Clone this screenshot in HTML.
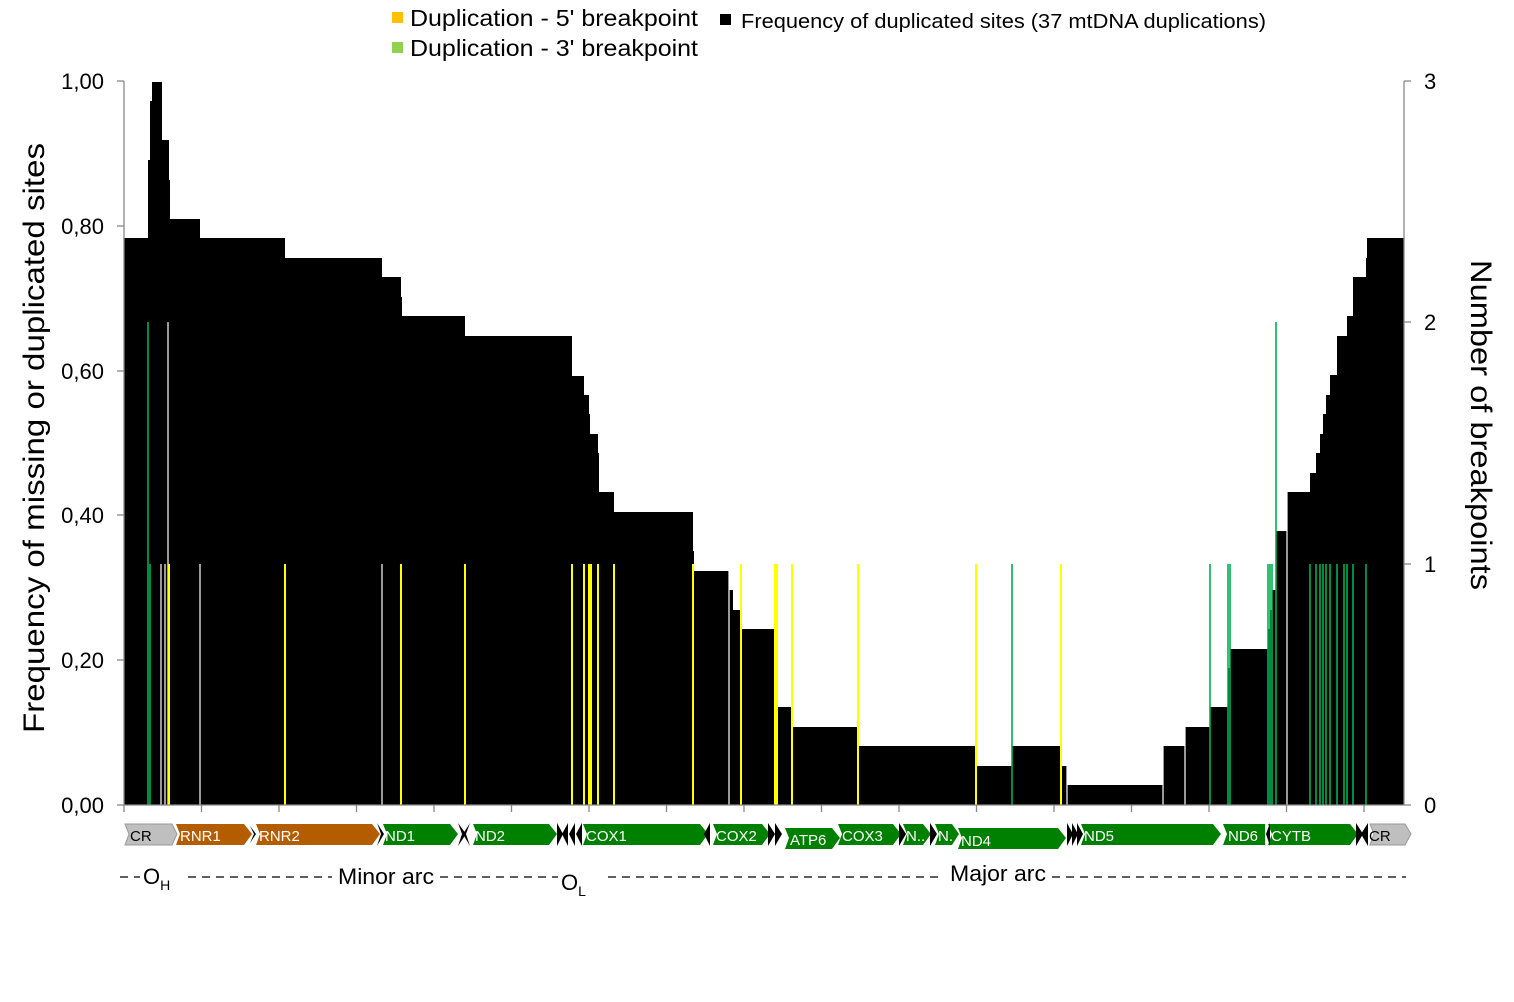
<!DOCTYPE html>
<html><head><meta charset="utf-8"><style>
body{margin:0;background:#fff;}
svg{display:block;font-family:"Liberation Sans",sans-serif;}
</style></head><body>
<svg width="1514" height="1002" viewBox="0 0 1514 1002" xmlns="http://www.w3.org/2000/svg">
<rect width="1514" height="1002" fill="#fff"/>
<!-- legend -->
<rect x="392" y="12" width="11" height="11" fill="#ffc000"/>
<text x="410" y="26" font-size="23" textLength="288" lengthAdjust="spacingAndGlyphs">Duplication - 5' breakpoint</text>
<rect x="392" y="42" width="11" height="11" fill="#92d050"/>
<text x="410" y="56" font-size="23" textLength="288" lengthAdjust="spacingAndGlyphs">Duplication - 3' breakpoint</text>
<rect x="720" y="14" width="11" height="11" fill="#000"/>
<text x="741" y="28" font-size="20" textLength="525" lengthAdjust="spacingAndGlyphs">Frequency  of duplicated  sites (37 mtDNA duplications)</text>
<!-- data -->
<polygon fill="#000" points="124,805 124,238 148,238 148,160 150,160 150,101 152,101 152,82 162,82 162,140 169,140 169,180 170,180 170,219 200,219 200,238 285,238 285,258 382,258 382,277 401,277 401,297 402,297 402,316 465,316 465,336 572,336 572,376 584,376 584,395 589,395 589,414 590,414 590,434 598,434 598,453 599,453 599,492 614,492 614,512 693,512 693,551 694,551 694,571 729,571 729,590 733,590 733,610 741,610 741,629 775,629 775,668 777,668 777,707 792,707 792,727 858,727 858,746 976,746 976,766 1012,766 1012,746 1061,746 1061,766 1067,766 1067,785 1163,785 1163,746 1185,746 1185,727 1210,727 1210,707 1228,707 1228,668 1230,668 1230,649 1268,649 1268,629 1270,629 1270,610 1272,610 1272,590 1276,590 1276,531 1287,531 1287,492 1310,492 1310,473 1316,473 1316,453 1320,453 1320,434 1323,434 1323,414 1326,414 1326,395 1330,395 1330,375 1337,375 1337,336 1347,336 1347,316 1353,316 1353,277 1366,277 1366,258 1367,258 1367,238 1404,238 1404,805"/>
<g stroke="#fff" stroke-width="1.2">
<line x1="161" y1="564" x2="161" y2="805"/><line x1="165" y1="564" x2="165" y2="805"/><line x1="200" y1="564" x2="200" y2="805"/><line x1="382" y1="564" x2="382" y2="805"/><line x1="729" y1="564" x2="729" y2="805"/><line x1="1067" y1="564" x2="1067" y2="805"/><line x1="1163" y1="564" x2="1163" y2="805"/><line x1="1185" y1="564" x2="1185" y2="805"/>
<line x1="168" y1="322" x2="168" y2="805"/><line x1="1287" y1="322" x2="1287" y2="805"/>
</g>
<g stroke="#ffff00" stroke-width="2">
<line x1="169" y1="564" x2="169" y2="805"/><line x1="285" y1="564" x2="285" y2="805"/><line x1="401" y1="564" x2="401" y2="805"/><line x1="465" y1="564" x2="465" y2="805"/><line x1="572" y1="564" x2="572" y2="805"/><line x1="584" y1="564" x2="584" y2="805"/><line x1="589" y1="564" x2="589" y2="805"/><line x1="591" y1="564" x2="591" y2="805"/><line x1="598" y1="564" x2="598" y2="805"/><line x1="614" y1="564" x2="614" y2="805"/><line x1="693" y1="564" x2="693" y2="805"/><line x1="741" y1="564" x2="741" y2="805"/><line x1="775" y1="564" x2="775" y2="805"/><line x1="777" y1="564" x2="777" y2="805"/><line x1="792" y1="564" x2="792" y2="805"/><line x1="858" y1="564" x2="858" y2="805"/><line x1="976" y1="564" x2="976" y2="805"/><line x1="1061" y1="564" x2="1061" y2="805"/>
</g>
<g stroke="#00b050" stroke-width="1.6">
<line x1="148" y1="322" x2="148" y2="805"/><line x1="1276" y1="322" x2="1276" y2="805"/>
<line x1="150" y1="564" x2="150" y2="805"/><line x1="1012" y1="564" x2="1012" y2="805"/><line x1="1210" y1="564" x2="1210" y2="805"/><line x1="1228" y1="564" x2="1228" y2="805"/><line x1="1230" y1="564" x2="1230" y2="805"/><line x1="1268" y1="564" x2="1268" y2="805"/><line x1="1270" y1="564" x2="1270" y2="805"/><line x1="1272" y1="564" x2="1272" y2="805"/><line x1="1310" y1="564" x2="1310" y2="805"/><line x1="1316" y1="564" x2="1316" y2="805"/><line x1="1320" y1="564" x2="1320" y2="805"/><line x1="1323" y1="564" x2="1323" y2="805"/><line x1="1326" y1="564" x2="1326" y2="805"/><line x1="1330" y1="564" x2="1330" y2="805"/><line x1="1337" y1="564" x2="1337" y2="805"/><line x1="1344" y1="564" x2="1344" y2="805"/><line x1="1347" y1="564" x2="1347" y2="805"/><line x1="1353" y1="564" x2="1353" y2="805"/><line x1="1366" y1="564" x2="1366" y2="805"/>
</g>
<!-- axes -->
<g stroke="#888" stroke-width="1.3" fill="none">
<line x1="124" y1="81" x2="124" y2="805"/>
<line x1="1404" y1="81" x2="1404" y2="805"/>
<line x1="124" y1="805" x2="1404" y2="805"/>
<line x1="117" y1="81" x2="124" y2="81"/><line x1="117" y1="226" x2="124" y2="226"/><line x1="117" y1="371" x2="124" y2="371"/><line x1="117" y1="515" x2="124" y2="515"/><line x1="117" y1="660" x2="124" y2="660"/><line x1="117" y1="805" x2="124" y2="805"/>
<line x1="1404" y1="81" x2="1411" y2="81"/><line x1="1404" y1="322" x2="1411" y2="322"/><line x1="1404" y1="564" x2="1411" y2="564"/><line x1="1404" y1="805" x2="1411" y2="805"/>
<path d="M124 805v7M201.5 805v7M279 805v7M356.5 805v7M434 805v7M511.5 805v7M589 805v7M666.5 805v7M744 805v7M821.5 805v7M899 805v7M976.5 805v7M1054 805v7M1131.5 805v7M1209 805v7M1286.5 805v7M1364 805v7"/>
</g>
<g font-size="22" text-anchor="end">
<text x="104" y="89">1,00</text><text x="104" y="234">0,80</text><text x="104" y="379">0,60</text><text x="104" y="523">0,40</text><text x="104" y="668">0,20</text><text x="104" y="813">0,00</text>
</g>
<g font-size="22">
<text x="1424" y="89">3</text><text x="1424" y="330">2</text><text x="1424" y="572">1</text><text x="1424" y="813">0</text>
</g>
<text transform="translate(44,438) rotate(-90)" font-size="30" text-anchor="middle" textLength="590" lengthAdjust="spacingAndGlyphs">Frequency  of missing or duplicated  sites</text>
<text transform="translate(1471,425) rotate(90)" font-size="30" text-anchor="middle" textLength="330" lengthAdjust="spacingAndGlyphs">Number of breakpoints</text>
<!-- genes -->
<g font-size="15" fill="#fff">
<polygon points="125,824 172,824 177,834 172,845 125,845 129,834" fill="#bfbfbf" stroke="#999"/><text x="130" y="841" fill="#000">CR</text>
<polygon points="176,824 244,824 252,834 244,845 176,845 180,834" fill="#b35c00"/><text x="180" y="841">RNR1</text>
<polygon points="256,824 372,824 380,834 372,845 256,845 260,834" fill="#b35c00"/><text x="259" y="841">RNR2</text>
<polygon points="383,824 450,824 458,834 450,845 383,845 387,834" fill="#008000"/><text x="385" y="841">ND1</text>
<polygon points="473,824 549,824 557,834 549,845 473,845 477,834" fill="#008000"/><text x="475" y="841">ND2</text>
<polygon points="583,824 700,824 708,834 700,845 583,845 587,834" fill="#008000"/><text x="586" y="841">COX1</text>
<polygon points="713,824 762,824 770,834 762,845 713,845 717,834" fill="#008000"/><text x="716" y="841">COX2</text>
<polygon points="785,828 832,828 840,838 832,849 785,849 789,838" fill="#008000"/><text x="790" y="845">ATP6</text>
<polygon points="838,824 893,824 901,834 893,845 838,845 842,834" fill="#008000"/><text x="842" y="841">COX3</text>
<polygon points="903,824 923,824 931,834 923,845 903,845 907,834" fill="#008000"/><text x="906" y="841">N..</text>
<polygon points="935,824 952,824 959,834 952,845 935,845 939,834" fill="#008000"/><text x="938" y="841">N.</text>
<polygon points="958,828 1058,828 1066,838 1058,849 958,849 962,838" fill="#008000"/><text x="961" y="846">ND4</text>
<polygon points="1081,824 1213,824 1221,834 1213,845 1081,845 1085,834" fill="#008000"/><text x="1084" y="841">ND5</text>
<polygon points="1223,824 1265,824 1265,845 1223,845 1227,834" fill="#008000"/><text x="1228" y="841">ND6</text>
<polygon points="1268,824 1350,824 1358,834 1350,845 1268,845 1272,834" fill="#008000"/><text x="1271" y="841">CYTB</text>
<polygon points="1370,824 1405,824 1411,834 1405,845 1370,845 1374,834" fill="#bfbfbf" stroke="#999"/><text x="1369" y="841" fill="#000">CR</text>
</g>
<g fill="#000">
<polygon points="250,826 256,834 250,843 254,834"/><polygon points="377,823 384,834 377,846 381,834"/><polygon points="458,823 466,834 458,846 462,834"/><polygon points="470,823 463,834 470,846 466,834"/>
<polygon points="557,823 563,834 557,846"/><polygon points="568,823 562,834 568,846"/><polygon points="575,823 569,834 575,846"/><polygon points="582,823 576,834 582,846"/>
<polygon points="710,823 704,834 710,846"/><polygon points="768,823 775,834 768,846"/><polygon points="775,823 782,834 775,846"/>
<polygon points="899,823 906,834 899,846"/><polygon points="930,823 937,834 930,846"/>
<polygon points="1067,823 1073,834 1067,846"/><polygon points="1072,823 1078,834 1072,846"/><polygon points="1077,823 1083,834 1077,846"/>
<polygon points="1270,823 1266,834 1270,846"/><polygon points="1356,823 1363,834 1356,846"/><polygon points="1368,823 1361,834 1368,846"/>
</g>
<!-- arcs -->
<g stroke="#000" stroke-width="1.3" stroke-dasharray="8,6">
<line x1="120" y1="877" x2="140" y2="877"/><line x1="188" y1="877" x2="332" y2="877"/><line x1="440" y1="877" x2="558" y2="877"/><line x1="608" y1="877" x2="944" y2="877"/><line x1="1052" y1="877" x2="1406" y2="877"/>
</g>
<g font-size="22">
<text x="143" y="884">O<tspan font-size="14" dy="6">H</tspan></text>
<text x="338" y="884" textLength="96" lengthAdjust="spacingAndGlyphs">Minor arc</text>
<text x="561" y="890">O<tspan font-size="14" dy="6">L</tspan></text>
<text x="950" y="881" textLength="96" lengthAdjust="spacingAndGlyphs">Major arc</text>
</g>
</svg>
</body></html>
